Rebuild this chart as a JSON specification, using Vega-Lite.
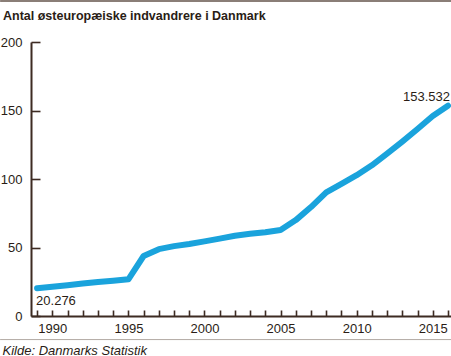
{
  "$schema": "https://vega.github.io/schema/vega-lite/v6.json",
  "width": 420,
  "height": 274,
  "autosize": {"type": "none"},
  "padding": {"left": 31, "top": 42, "right": 0, "bottom": 40},
  "background": "white",
  "config": {
    "view": {"stroke": null},
    "font": "Liberation Sans",
    "axis": {"grid": false, "domainColor": "#3d2b22", "tickColor": "#3d2b22", "labelColor": "#2a1d16", "labelFont": "Liberation Sans", "labelFontSize": 13, "domainWidth": 2, "tickWidth": 1.6}
  },
  "title": {
    "text": "Antal østeuropæiske indvandrere i Danmark",
    "anchor": "start",
    "frame": "group",
    "dx": -28,
    "offset": -33,
    "baseline": "alphabetic",
    "font": "Liberation Sans",
    "fontSize": 12.5,
    "fontWeight": "bold",
    "color": "#2a1d16"
  },
  "datasets": {
    "series": [
      {"year": 1989, "value": 20.276},
      {"year": 1990, "value": 21.3},
      {"year": 1991, "value": 22.4},
      {"year": 1992, "value": 23.7},
      {"year": 1993, "value": 24.8},
      {"year": 1994, "value": 25.8},
      {"year": 1995, "value": 26.8},
      {"year": 1996, "value": 43.8},
      {"year": 1997, "value": 48.8},
      {"year": 1998, "value": 51},
      {"year": 1999, "value": 52.6},
      {"year": 2000, "value": 54.5},
      {"year": 2001, "value": 56.5},
      {"year": 2002, "value": 58.6},
      {"year": 2003, "value": 60},
      {"year": 2004, "value": 61.2},
      {"year": 2005, "value": 62.8},
      {"year": 2006, "value": 70},
      {"year": 2007, "value": 79.5},
      {"year": 2008, "value": 90.3},
      {"year": 2009, "value": 96.5},
      {"year": 2010, "value": 102.8},
      {"year": 2011, "value": 110},
      {"year": 2012, "value": 118.5},
      {"year": 2013, "value": 127.3},
      {"year": 2014, "value": 136.5},
      {"year": 2015, "value": 146},
      {"year": 2016, "value": 153.532}
    ],
    "labels": [
      {"year": 1989, "value": 20.276, "label": "20.276", "pos": "start"},
      {"year": 2016, "value": 153.532, "label": "153.532", "pos": "end"}
    ],
    "frame": [
      {"y": 230, "x": 1986.57, "x2": 2016.2, "kind": "top"},
      {"y": -17.2, "x": 1986.57, "x2": 2016.2, "kind": "bottom"}
    ]
  },
  "layer": [
    {
      "data": {"name": "series"},
      "mark": {"type": "line", "color": "#1aa3dc", "strokeWidth": 6, "strokeCap": "round", "strokeJoin": "round"},
      "encoding": {
        "x": {
          "field": "year", "type": "quantitative",
          "scale": {"domain": [1988.6, 2016.2], "nice": false, "zero": false},
          "axis": {
            "values": [1989,1990,1991,1992,1993,1994,1995,1996,1997,1998,1999,2000,2001,2002,2003,2004,2005,2006,2007,2008,2009,2010,2011,2012,2013,2014,2015,2016],
            "tickCount": 100,
            "labelExpr": "datum.value % 5 == 0 ? datum.value : ''",
            "tickSize": -6,
            "labelPadding": 12,
            "labelFlush": false,
            "labelOverlap": false,
            "title": "Kilde: Danmarks Statistik",
            "titleFont": "Liberation Sans",
            "titleFontSize": 13,
            "titleFontStyle": "italic",
            "titleFontWeight": "normal",
            "titleColor": "#2a1d16",
            "titleAnchor": "start",
            "titleAlign": "left",
            "titleBaseline": "alphabetic",
            "titleX": -29,
            "titleY": 38
          }
        },
        "y": {
          "field": "value", "type": "quantitative",
          "scale": {"domain": [0, 200], "nice": false},
          "axis": {
            "values": [0, 50, 100, 150, 200],
            "tickCount": 100,
            "tickSize": -9,
            "labelPadding": 18,
            "title": null
          }
        }
      }
    },
    {
      "data": {"name": "labels"},
      "transform": [{"filter": "datum.pos == 'start'"}],
      "mark": {"type": "text", "align": "left", "baseline": "alphabetic", "dy": 17, "dx": -1, "fontSize": 13, "color": "#2a1d16", "font": "Liberation Sans"},
      "encoding": {
        "x": {"field": "year", "type": "quantitative"},
        "y": {"field": "value", "type": "quantitative"},
        "text": {"field": "label"}
      }
    },
    {
      "data": {"name": "labels"},
      "transform": [{"filter": "datum.pos == 'end'"}],
      "mark": {"type": "text", "align": "right", "baseline": "alphabetic", "dy": -5, "dx": 2, "fontSize": 13, "color": "#2a1d16", "font": "Liberation Sans"},
      "encoding": {
        "x": {"field": "year", "type": "quantitative"},
        "y": {"field": "value", "type": "quantitative"},
        "text": {"field": "label"}
      }
    },
    {
      "data": {"name": "frame"},
      "transform": [{"filter": "datum.kind == 'top'"}],
      "mark": {"type": "rule", "color": "#8a7e77", "strokeWidth": 2},
      "encoding": {
        "x": {"field": "x", "type": "quantitative"},
        "x2": {"field": "x2"},
        "y": {"field": "y", "type": "quantitative"}
      }
    },
    {
      "data": {"name": "frame"},
      "transform": [{"filter": "datum.kind == 'bottom'"}],
      "mark": {"type": "rule", "color": "#b3aaa4", "strokeWidth": 1},
      "encoding": {
        "x": {"field": "x", "type": "quantitative"},
        "x2": {"field": "x2"},
        "y": {"field": "y", "type": "quantitative"}
      }
    }
  ]
}
